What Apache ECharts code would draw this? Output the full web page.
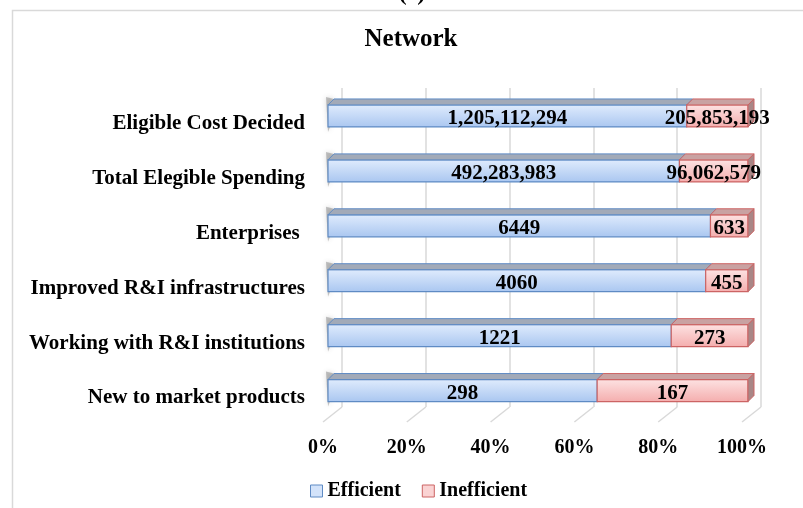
<!DOCTYPE html>
<html>
<head>
<meta charset="utf-8">
<script src="https://cdn.jsdelivr.net/npm/echarts@6/dist/echarts.min.js"></script>
<style>
html,body{margin:0;padding:0;background:#fff;}
#chart{width:803px;height:508px;}
</style>
</head>
<body>
<div id="chart"></div>
<script>
// ---- data ----
const categories = ['Eligible Cost Decided', 'Total Elegible Spending', 'Enterprises ', 'Improved R&I infrastructures', 'Working with R&I institutions', 'New to market products'];
const efficient = [1205112294, 492283983, 6449, 4060, 1221, 298];
const inefficient = [205853193, 96062579, 633, 455, 273, 167];
const tickValues = [0, 20, 40, 60, 80, 100];
const seriesNames = ['Efficient', 'Inefficient'];

function fmt(v) {
  return v >= 100000 ? v.toLocaleString('en-US') : String(v);
}

const FONT = '"Liberation Serif", "Times New Roman", serif';

const effData = [], ineffData = [];
categories.forEach(function (c, i) {
  const tot = efficient[i] + inefficient[i];
  const pe = efficient[i] / tot * 100;
  effData.push([0, pe, i, efficient[i]]);
  ineffData.push([pe, 100, i, inefficient[i]]);
});

const styles = [
  { front: ['#e0ecfd', '#a9c6f0'], top: '#a2aab8', side: '#8e98aa', stroke: '#5f8bc4' },
  { front: ['#fde3e3', '#f4adad'], top: '#c9a2a2', side: '#a98686', stroke: '#cc6464' }
];

function makeRender(si) {
  return function (params, api) {
    const s = api.value(0), e = api.value(1), c = api.value(2), raw = api.value(3);
    const p0 = api.coord([s, c]);
    const p1 = api.coord([e, c]);
    const h = 22, dx = 6, dy = -6;
    const x0 = p0[0], x1 = p1[0];
    const yt = p0[1] - h / 2, yb = p0[1] + h / 2;
    const st = styles[si];
    const children = [];
    if (si === 0) {
      children.push({
        type: 'polygon', silent: true,
        shape: { points: [[x0 - 2, yt + dy - 2], [x0 + dx, yt + dy], [x0 + 2, yb], [x0, yb + 5]] },
        style: { fill: 'rgba(90,90,90,0.35)', shadowBlur: 5, shadowColor: 'rgba(70,70,70,0.6)' }
      });
    }
    children.push({
      type: 'rect',
      shape: { x: x0, y: yt, width: x1 - x0, height: h },
      style: {
        fill: new echarts.graphic.LinearGradient(0, 0, 0, 1, [
          { offset: 0, color: st.front[0] }, { offset: 1, color: st.front[1] }
        ]),
        stroke: st.stroke, lineWidth: 1.2
      }
    });
    children.push({
      type: 'polygon',
      shape: { points: [[x0, yt], [x1, yt], [x1 + dx, yt + dy], [x0 + dx, yt + dy]] },
      style: { fill: st.top, stroke: st.stroke, lineWidth: 1 }
    });
    if (si === 1) {
      children.push({
        type: 'polygon',
        shape: { points: [[x1, yt], [x1 + dx, yt + dy], [x1 + dx, yb + dy], [x1, yb]] },
        style: { fill: st.side, stroke: st.stroke, lineWidth: 1 }
      });
    }
    children.push({
      type: 'text',
      z2: 10,
      style: {
        x: (x0 + x1) / 2, y: p0[1] + 3,
        text: fmt(raw),
        align: 'center', verticalAlign: 'middle',
        font: 'bold 21px ' + FONT,
        fill: '#000'
      }
    });
    return { type: 'group', children: children };
  };
}

const chart = echarts.init(document.getElementById('chart'), null, { renderer: 'canvas' });

const option = {
  animation: false,
  backgroundColor: '#fff',
  graphic: [
    { type: 'rect', shape: { x: 12.5, y: 10.5, width: 820, height: 520 }, style: { fill: 'none', stroke: '#d9d9d9', lineWidth: 1.5 }, z: -10 },
    { type: 'text', x: 412, y: -18, style: { text: '(e)', font: 'bold 24px ' + FONT, fill: '#000', align: 'center', verticalAlign: 'top' } },
    { type: 'text', x: 411, y: 40, style: { text: 'Network', font: 'bold 25px ' + FONT, fill: '#000', align: 'center', verticalAlign: 'middle' } }
  ],
  legend: {
    left: 305, top: 476,
    itemWidth: 12, itemHeight: 12, itemGap: 21,
    icon: 'rect',
    textStyle: { fontFamily: FONT, fontWeight: 'bold', fontSize: 20, color: '#000' },
    data: [
      { name: seriesNames[0], itemStyle: { color: '#d3e3fa', borderColor: '#5f8bc4', borderWidth: 1 } },
      { name: seriesNames[1], itemStyle: { color: '#fad3d3', borderColor: '#cc6464', borderWidth: 1 } }
    ]
  },
  grid: [
    { left: 328, right: 55, top: 88.5, bottom: 90 },      // bars (front face)
    { left: 342, right: 42, top: 88, bottom: 101 },       // back wall
    { left: 323, right: 61, top: 96, bottom: 82.5 }       // floor front (labels)
  ],
  xAxis: [
    { gridIndex: 0, type: 'value', min: 0, max: 100, show: false },
    { gridIndex: 1, type: 'value', min: 0, max: 100, interval: 20,
      axisLine: { show: false }, axisTick: { show: false }, axisLabel: { show: false },
      splitLine: { show: true, lineStyle: { color: '#d9d9d9', width: 1.5 } } },
    { gridIndex: 2, type: 'value', min: 0, max: 100, interval: 20,
      axisLine: { show: false }, axisTick: { show: false }, splitLine: { show: false },
      axisLabel: { margin: 12, formatter: function (v) { return v + '%'; },
        fontFamily: FONT, fontWeight: 'bold', fontSize: 20, color: '#000' } }
  ],
  yAxis: [
    { gridIndex: 0, type: 'category', data: categories, inverse: true, show: false },
    { gridIndex: 1, type: 'value', min: 0, max: 1, show: false },
    { gridIndex: 2, type: 'category', data: categories, inverse: true,
      axisLine: { show: false }, axisTick: { show: false }, splitLine: { show: false },
      axisLabel: { margin: 18, fontFamily: FONT, fontWeight: 'bold', fontSize: 21, color: '#000' } }
  ],
  series: [
    {
      type: 'custom', name: 'floor', xAxisIndex: 1, yAxisIndex: 1, silent: true, z: 1,
      data: tickValues.map(function (v) { return [v, 0]; }),
      renderItem: function (params, api) {
        const p = api.coord([api.value(0), 0]);
        return { type: 'line', shape: { x1: p[0], y1: p[1], x2: p[0] - 19, y2: p[1] + 15 },
          style: { stroke: '#d9d9d9', lineWidth: 1.5 } };
      }
    },
    {
      type: 'custom', name: seriesNames[0], xAxisIndex: 0, yAxisIndex: 0, z: 3,
      itemStyle: { color: '#d3e3fa' },
      data: effData, renderItem: makeRender(0)
    },
    {
      type: 'custom', name: seriesNames[1], xAxisIndex: 0, yAxisIndex: 0, z: 4,
      itemStyle: { color: '#fad3d3' },
      data: ineffData, renderItem: makeRender(1)
    }
  ]
};
chart.setOption(option);
</script>
</body>
</html>
